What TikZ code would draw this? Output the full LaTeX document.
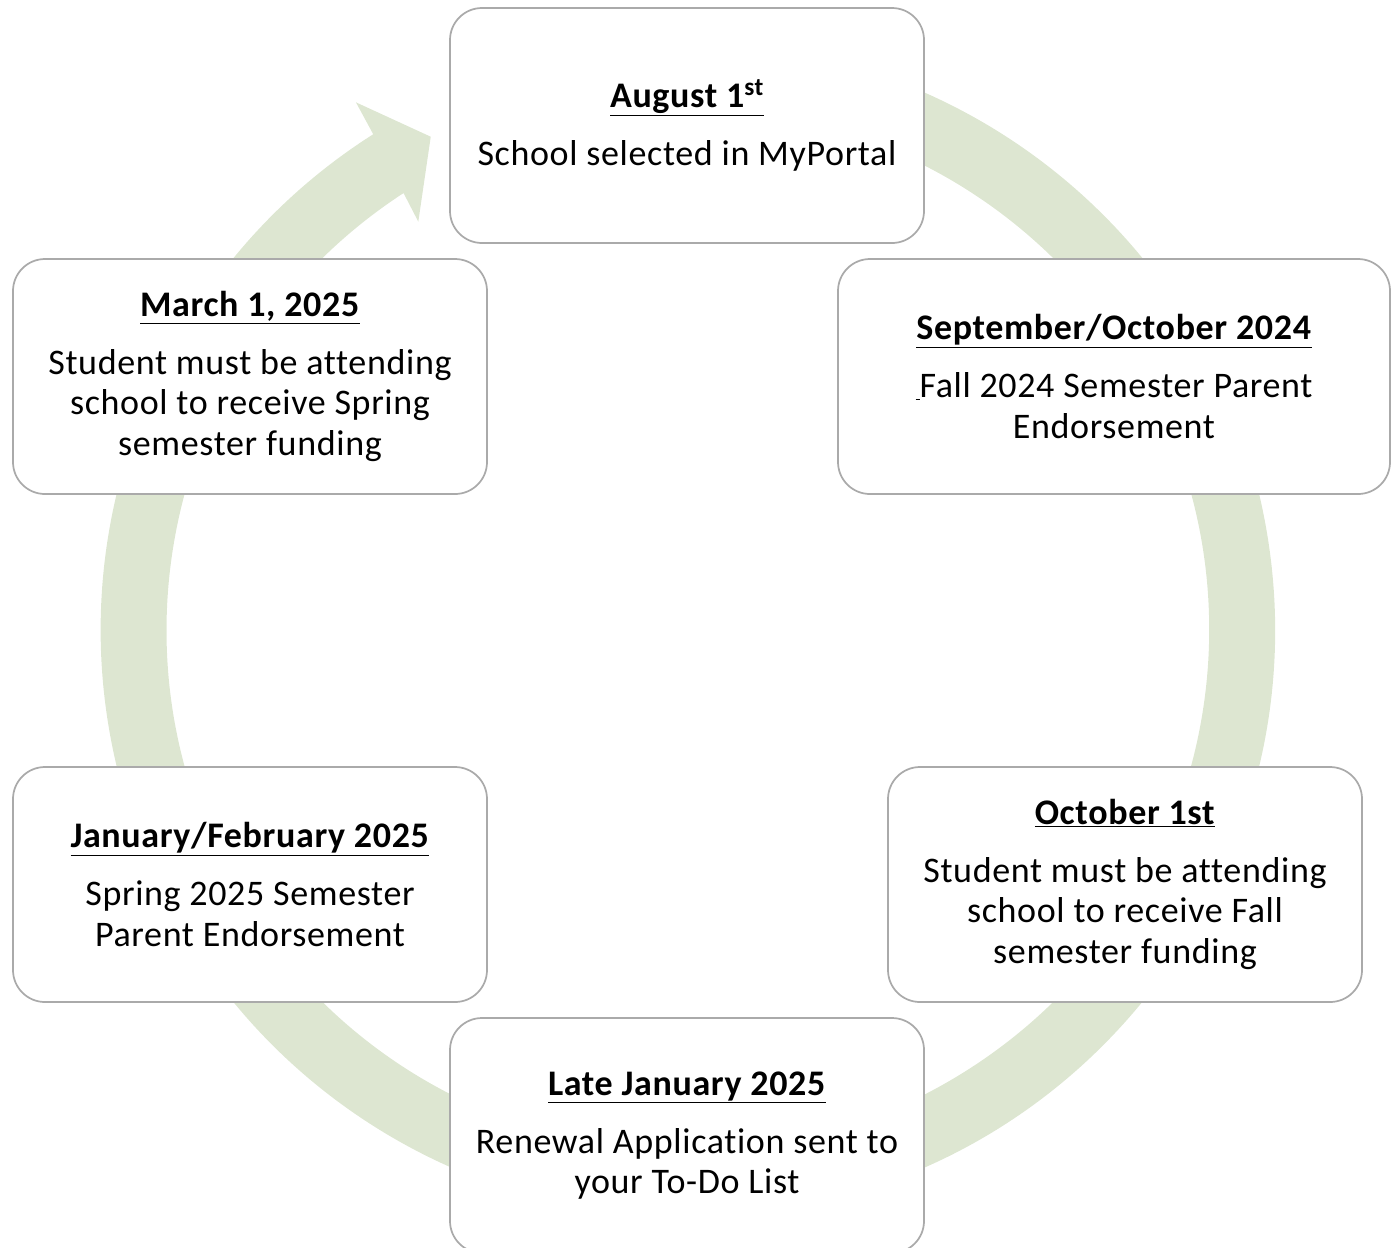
\documentclass[tikz,border=0pt]{standalone}
\usepackage{fontspec}
\setmainfont{Carlito}[Ligatures=NoCommon, LetterSpace=1.8]
\usetikzlibrary{positioning}
\definecolor{ringgreen}{RGB}{221,230,209}
\definecolor{boxgray}{RGB}{170,170,170}
\newcommand{\datehead}[1]{\underline{\textbf{#1}}}
\tikzset{
  stepnode/.style = {rectangle, rounded corners=24pt, draw=boxgray, line width=1.3pt,
    fill=white, align=center, inner sep=0pt, minimum width=355.5pt,
    minimum height=176.25pt, font=\fontsize{27}{30.4}\selectfont},% date box
  widestep/.style = {stepnode, minimum width=414pt},% wider box, upper right
  ring/.style = {fill=ringgreen}% circular arrow
}

\begin{document}
\begin{tikzpicture}[x=0.75pt, y=0.75pt]
\useasboundingbox (0,0) rectangle (1392,-1247);
% circular arrow behind the boxes
\begin{scope}[shift={(687.85,-630)}]
\fill [ring] (100:587.2) arc[start angle=100, end angle=-237.6, radius=587.2]
  -- (122.17:623.4) -- (117.53:556.3) -- (123.43:489.3) -- (123.05:521.3)
  arc[start angle=-236.95, end angle=100, radius=521.3] -- cycle;
\end{scope}
% the six dates
\node [stepnode] (aug) at (687,-125.5) {\datehead{August 1\textsuperscript{st}}\\[13pt]
  School selected in MyPortal};
\node [widestep] (sepoct) at (1114,-376.5) {\datehead{September/October 2024}\\[13pt]
  \underline{\hspace{3pt}}Fall 2024 Semester Parent\\ Endorsement};
\node [stepnode] (oct) at (1125,-884.5) {\datehead{October 1st}\\[13pt]
  Student must be attending\\ school to receive Fall\\ semester funding};
\node [stepnode] (latejan) at (687,-1135.5) {\datehead{Late January 2025}\\[13pt]
  Renewal Application sent to\\ your To-Do List};
\node [stepnode] (janfeb) at (250,-884.5) {\datehead{January/February 2025}\\[13pt]
  Spring 2025 Semester\\ Parent Endorsement};
\node [stepnode] (march) at (250,-376.5) {\datehead{March 1, 2025}\\[13pt]
  Student must be attending\\ school to receive Spring\\ semester funding};
\end{tikzpicture}
\end{document}
